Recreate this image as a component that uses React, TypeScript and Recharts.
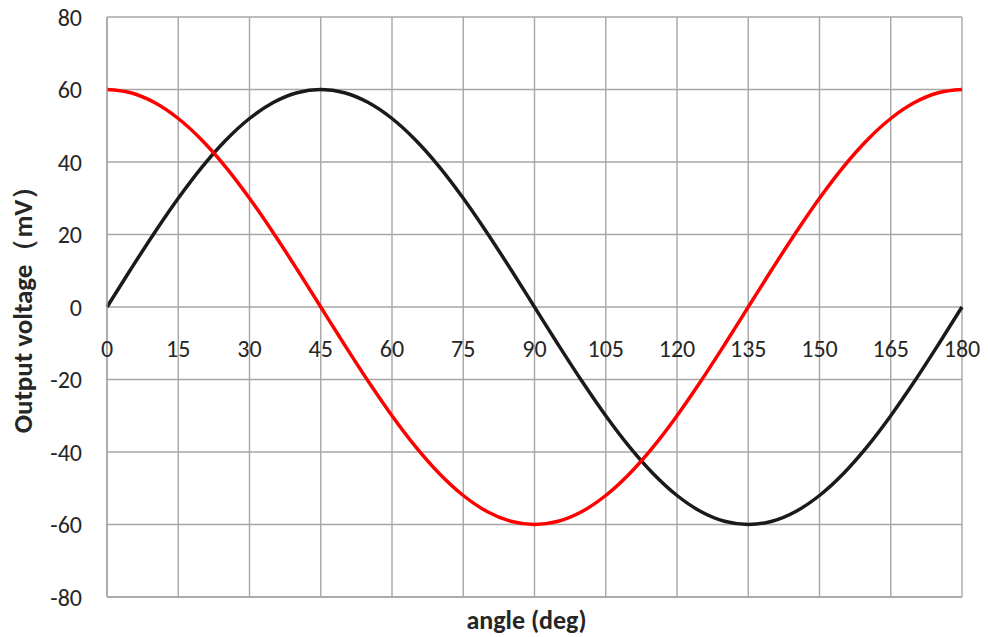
import { CartesianGrid, Line, LineChart, XAxis, YAxis } from "recharts";

// angle in degrees, sampled every 5°
const angles = [
  0, 5, 10, 15, 20, 25, 30, 35, 40, 45, 50, 55, 60, 65, 70, 75, 80, 85, 90,
  95, 100, 105, 110, 115, 120, 125, 130, 135, 140, 145, 150, 155, 160, 165,
  170, 175, 180,
];

// black curve (mV)
const blackSeries = [
  0, 10.4, 20.5, 30, 38.6, 46, 52, 56.4, 59.1, 60, 59.1, 56.4, 52, 46, 38.6,
  30, 20.5, 10.4, 0, -10.4, -20.5, -30, -38.6, -46, -52, -56.4, -59.1, -60,
  -59.1, -56.4, -52, -46, -38.6, -30, -20.5, -10.4, 0,
];

// red curve (mV)
const redSeries = [
  60, 59.1, 56.4, 52, 46, 38.6, 30, 20.5, 10.4, 0, -10.4, -20.5, -30, -38.6,
  -46, -52, -56.4, -59.1, -60, -59.1, -56.4, -52, -46, -38.6, -30, -20.5,
  -10.4, 0, 10.4, 20.5, 30, 38.6, 46, 52, 56.4, 59.1, 60,
];

const xTicks = [0, 15, 30, 45, 60, 75, 90, 105, 120, 135, 150, 165, 180];
const yTicks = [-80, -60, -40, -20, 0, 20, 40, 60, 80];

const data = angles.map((a, i) => ({
  angle: a,
  black: blackSeries[i],
  red: redSeries[i],
}));

const FONT = "Carlito, 'Open Sans', sans-serif";
const PLOT_HEIGHT = 580;

// x tick labels sit just under the 0 mV line, not at the bottom edge
function ZeroLineTick(props: any) {
  const { x, y, payload } = props;
  return (
    <text
      x={x}
      y={y - PLOT_HEIGHT / 2 + 42}
      textAnchor="middle"
      fill="#262626"
      fontSize={24}
      fontFamily={FONT}
    >
      {payload.value}
    </text>
  );
}

export default function App() {
  return (
    <div style={{ width: 988, height: 637, background: "#fff" }}>
      <style>{"body{margin:0}"}</style>
      <LineChart
        width={988}
        height={637}
        data={data}
        margin={{ top: 17, right: 26, left: 47, bottom: 0 }}
      >
        <CartesianGrid stroke="#a6a6a6" strokeWidth={1.4} />
        <XAxis
          dataKey="angle"
          type="number"
          domain={[0, 180]}
          ticks={xTicks}
          height={40}
          axisLine={{ stroke: "#a6a6a6", strokeWidth: 1.4 }}
          tickLine={false}
          tick={<ZeroLineTick />}
          label={{
            value: "angle (deg)",
            position: "insideBottom",
            offset: 8,
            dx: -8,
            fill: "#262626",
            fontSize: 26,
            fontWeight: 700,
            fontFamily: FONT,
          }}
        />
        <YAxis
          type="number"
          domain={[-80, 80]}
          ticks={yTicks}
          width={60}
          axisLine={{ stroke: "#a6a6a6", strokeWidth: 1.4 }}
          tickLine={false}
          tickMargin={19}
          tick={{ fill: "#262626", fontSize: 24, fontFamily: FONT }}
          label={{
            value: "Output voltage（mV）",
            angle: -90,
            position: "insideLeft",
            offset: -25,
            dy: -4,
            style: { textAnchor: "middle" },
            fill: "#262626",
            fontSize: 27,
            fontWeight: 700,
            fontFamily: FONT,
          }}
        />
        <Line
          type="monotone"
          dataKey="black"
          stroke="#1a1a1a"
          strokeWidth={3.5}
          dot={false}
          isAnimationActive={false}
        />
        <Line
          type="monotone"
          dataKey="red"
          stroke="#ff0000"
          strokeWidth={3.5}
          dot={false}
          isAnimationActive={false}
        />
      </LineChart>
    </div>
  );
}
